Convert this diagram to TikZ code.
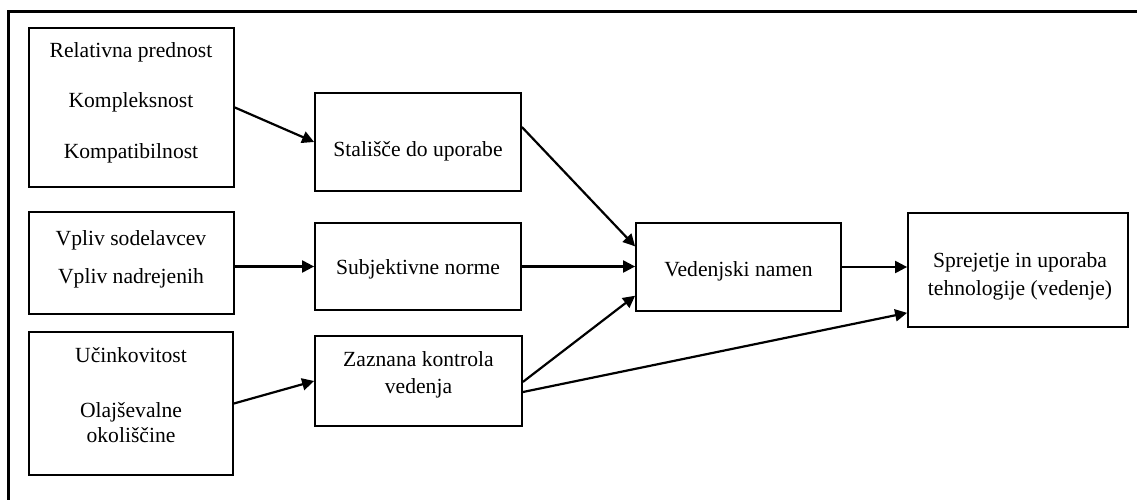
\documentclass[tikz,border=0pt]{standalone}
\usepackage{fontspec}
\setmainfont{Liberation Serif}
\usetikzlibrary{arrows.meta,calc}
\begin{document}
\begin{tikzpicture}[x=1pt,y=-1pt,
  box/.style={draw,line width=1.8pt,inner sep=0pt},
  txt/.style={font=\fontsize{21.6}{26}\selectfont,inner sep=0pt,anchor=base},
  conn/.style={line width=2.2pt,-{Triangle[length=12pt,width=12pt]}}]
\useasboundingbox (0,0) rectangle (1137,500);
\begin{scope}
  \clip (0,0) rectangle (1137,500);
  \draw[line width=3pt] (8.5,540) -- (8.5,12) -- (1170,12);
\end{scope}
% boxes
\node[box,minimum width=205pt,minimum height=159pt] (A) at (131.5,107.5) {};
\node[box,minimum width=206pt,minimum height=98pt] (Stal) at (418,142) {};
\node[box,minimum width=205pt,minimum height=102pt] (Vpliv) at (131.5,263) {};
\node[box,minimum width=206pt,minimum height=87pt] (Subj) at (418,266.5) {};
\node[box,minimum width=205pt,minimum height=88pt] (Ved) at (738.5,267) {};
\node[box,minimum width=220pt,minimum height=114pt] (Sprej) at (1018,270) {};
\node[box,minimum width=204pt,minimum height=143pt] (Ucink) at (131,403.5) {};
\node[box,minimum width=207pt,minimum height=90pt] (Zazn) at (418.5,381) {};
% texts
\node[txt] (t1) at (131,58) {Relativna prednost};
\node[txt] (t2) at (131,108) {Kompleksnost};
\node[txt] (t3) at (131,158) {Kompatibilnost};
\node[txt] (t4) at (418,157) {Stališče do uporabe};
\node[txt] (t5) at (131,245) {Vpliv sodelavcev};
\node[txt] (t6) at (131,283) {Vpliv nadrejenih};
\node[txt] (t7) at (418,274) {Subjektivne norme};
\node[txt] (t8) at (738.5,276) {Vedenjski namen};
\node[txt] (t9) at (1020,267) {Sprejetje in uporaba};
\node[txt] (t10) at (1020,295) {tehnologije (vedenje)};
\node[txt] (t11) at (131,362) {Učinkovitost};
\node[txt] (t12) at (131,417) {Olajševalne};
\node[txt] (t13) at (131,442) {okoliščine};
\node[txt] (t14) at (418.5,366) {Zaznana kontrola};
\node[txt] (t15) at (418.5,393) {vedenja};
% connectors
\draw[conn] (A.east) -- (Stal.west);
\draw[conn] ($(Stal.north east)!0.35!(Stal.south east)$) -- ($(Ved.north west)!0.27!(Ved.south west)$);
\draw[conn] (Vpliv.east |- Subj.west) -- (Subj.west);
\draw[conn] (Subj.east) -- (Subj.east -| Ved.west);
\draw[conn] (Ucink.east) -- (Zazn.west);
\draw[conn] ($(Zazn.north east)!0.51!(Zazn.south east)$) -- ($(Ved.north west)!0.82!(Ved.south west)$);
\draw[conn] ($(Zazn.north east)!0.62!(Zazn.south east)$) -- ($(Sprej.north west)!0.87!(Sprej.south west)$);
\draw[conn] (Ved.east) -- (Ved.east -| Sprej.west);
\end{tikzpicture}
\end{document}
